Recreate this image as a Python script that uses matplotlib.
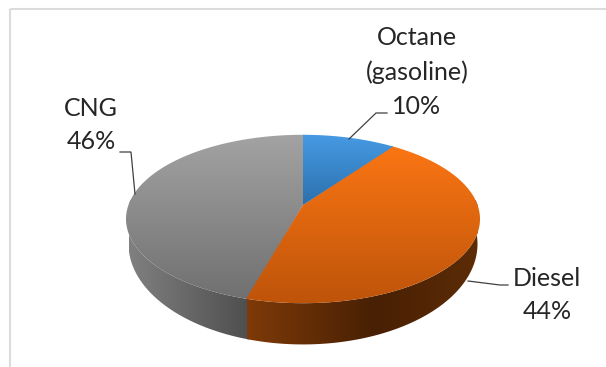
import numpy as np
import matplotlib
matplotlib.use("Agg")
import matplotlib.pyplot as plt
from matplotlib.patches import Polygon, Rectangle

fuels = ["Octane\n(gasoline)", "Diesel", "CNG"]
shares = [10.0, 44.4, 45.6]

top_colors = [((70, 155, 228), (44, 112, 172)),
              ((255, 120, 20), (190, 84, 10)),
              ((163, 163, 163), (112, 112, 112))]
side_stops = [None,
              [(0.0, (126, 58, 8)), (0.55, (72, 32, 4)), (1.0, (92, 44, 6))],
              [(0.0, (128, 128, 128)), (1.0, (78, 78, 78))]]

# (label centre x, y, leader xs, leader ys) in picture pixels
label_pos = [(417, 72, [349, 376, 387], [139, 113, 113]),
             (547, 295, [468, 500, 508], [281, 285, 285]),
             (91, 125, [120, 131, 135], [152, 152, 194])]

cx, cy, rx, ry, k = 303, 219, 177, 83, 0.1687
bottom_cy, bottom_ry, bottom_rx = 244, 99, 174.5


def rim(theta, centre, w_r, h_r):
  # circle seen in perspective, theta clockwise from the top
  X = np.sin(theta)
  Y = np.cos(theta)
  w = 1 + k * Y
  norm = np.sqrt(1 - k * k)
  return cx + w_r * norm * X / w, centre + h_r * (norm * Y / w + k / norm) * -1


def gradient(ax, patch, stops, horizontal, extent):
  pos = [s[0] for s in stops]
  vals = np.array([s[1] for s in stops]) / 255
  t = np.linspace(0, 1, 256)
  rgb = np.stack([np.interp(t, pos, vals[:, i]) for i in range(3)], axis=-1)
  img = rgb[np.newaxis, :, :] if horizontal else rgb[:, np.newaxis, :]
  im = ax.imshow(img, extent=extent, origin="upper", aspect="auto", interpolation="bilinear")
  ax.add_patch(patch)
  im.set_clip_path(patch)


fig = plt.figure(figsize=(6.06, 3.67), dpi=100)
ax = fig.add_axes([0, 0, 1, 1])

edges = np.radians(np.cumsum([0] + shares) * 3.6)
overlap = np.radians(0.6)


def slice_angles(i):
  # later slices run a little under the earlier ones so no white seam shows
  start = edges[i] - overlap if i > 0 else edges[i]
  end = edges[i + 1] + overlap if i == len(shares) - 1 else edges[i + 1]
  return np.linspace(start, end, 120)


for i in reversed(range(len(shares))):
  if side_stops[i] is None:
    continue
  th = slice_angles(i)
  tx, ty = rim(th, cy, rx, ry)
  bx, by = rim(th, bottom_cy, bottom_rx, bottom_ry)
  poly = Polygon(np.r_[np.c_[tx, ty], np.c_[bx, by][::-1]], closed=True, fc="none", ec="none")
  visible = bx[by > bottom_cy]
  gradient(ax, poly, side_stops[i], True, (visible.min(), visible.max(), 345, 200))

apex_y = cy - 14
for i in reversed(range(len(shares))):
  tx, ty = rim(slice_angles(i), cy, rx, ry)
  poly = Polygon(np.r_[[[cx, apex_y]], np.c_[tx, ty]], closed=True, fc="none", ec="none")
  stops = [(0.0, top_colors[i][0]), (1.0, top_colors[i][1])]
  ymin = ty.min() if i != 1 else 136
  ymax = max(ty.max(), apex_y)
  gradient(ax, poly, stops, False, (120, 485, ymax, ymin))

for i, name in enumerate(fuels):
  x, y, lx, ly = label_pos[i]
  ax.plot(lx, ly, color="#404040", lw=0.9, solid_joinstyle="miter")
  ax.text(x, y, f"{name}\n{round(shares[i])}%", ha="center", va="center", color="#262626",
          fontsize=18, family="Lato", linespacing=1.56)

ax.add_patch(Rectangle((10, 9), 700, 500, fc="none", ec="#dcdcdc", lw=1.5))
ax.set_xlim(0, 606)
ax.set_ylim(367, 0)
ax.axis("off")

fig.savefig("out.png", dpi=100)
